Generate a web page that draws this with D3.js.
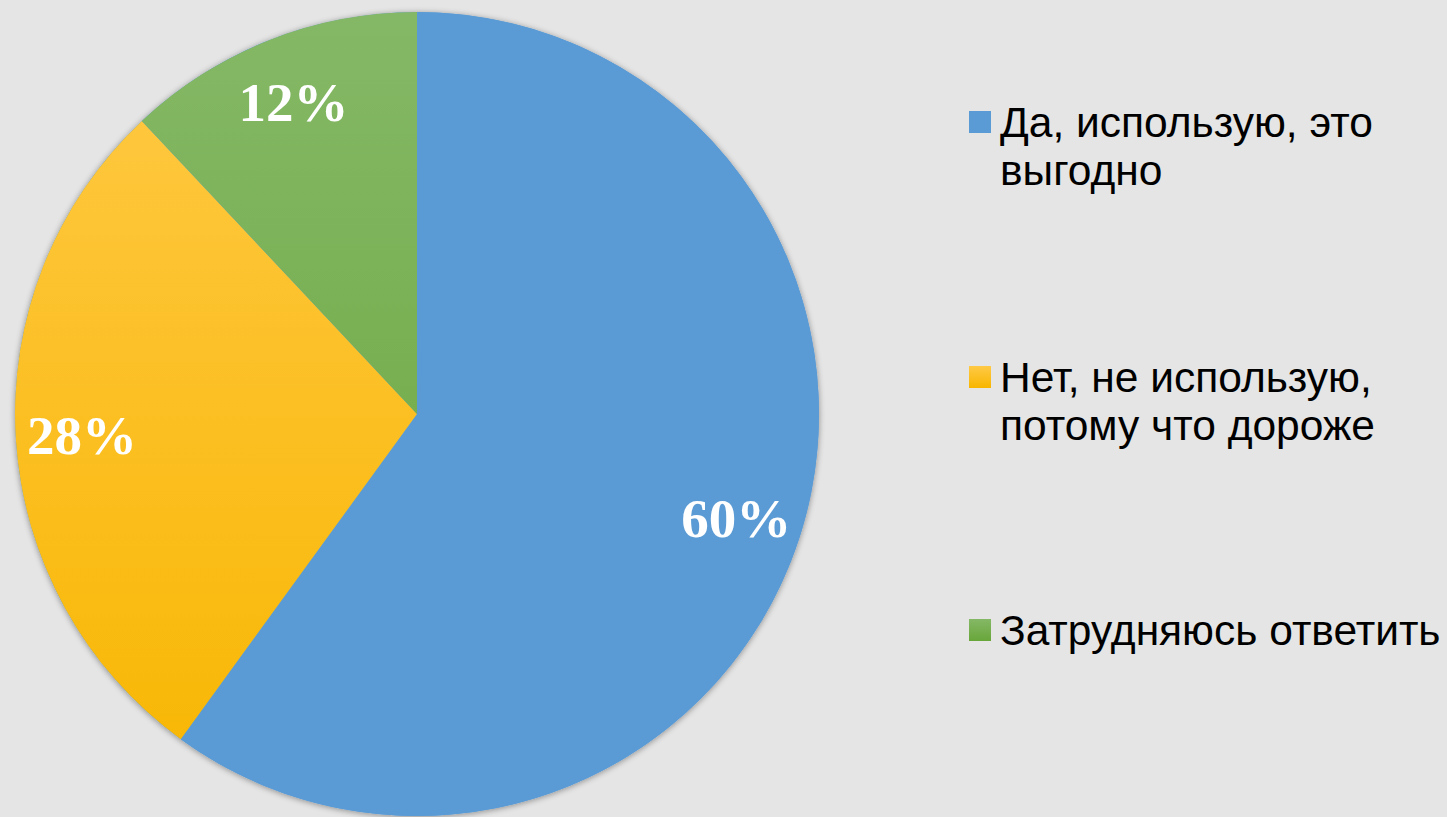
<!DOCTYPE html>
<html><head><meta charset="utf-8">
<script src="https://cdn.jsdelivr.net/npm/d3@7/dist/d3.min.js"></script>
<style>html,body{margin:0;padding:0;background:#e5e5e5;}svg{display:block;}</style>
</head><body>
<svg id="chart" width="1447" height="817"></svg>
<script>
const categories = ["Да, использую, это выгодно", "Нет, не использую, потому что дороже", "Затрудняюсь ответить"];
const legendLines = [["Да, использую, это", "выгодно"], ["Нет, не использую,", "потому что дороже"], ["Затрудняюсь ответить"]];
const values = [60, 28, 12];
const labels = ["60%", "28%", "12%"];
const colorsTop = ["#5b9bd5", "#ffc946", "#85b866"];
const colorsBottom = ["#5b9bd5", "#f8b600", "#68a63a"];

const svg = d3.select("#chart");
const W = 1447, H = 817;
svg.append("rect").attr("width", W).attr("height", H).attr("fill", "#e5e5e5");
const cx = 417, cy = 414, R = 402;

const defs = svg.append("defs");
const f = defs.append("filter").attr("id", "sh").attr("x", "-10%").attr("y", "-10%").attr("width", "120%").attr("height", "120%");
f.append("feGaussianBlur").attr("in", "SourceAlpha").attr("stdDeviation", 3);
f.append("feOffset").attr("dx", 0).attr("dy", 1).attr("result", "b");
f.append("feComponentTransfer").append("feFuncA").attr("type", "linear").attr("slope", 0.4);
const fm = f.append("feMerge");
fm.append("feMergeNode");
fm.append("feMergeNode").attr("in", "SourceGraphic");

categories.forEach((c, i) => {
  const g = defs.append("linearGradient").attr("id", "g" + i)
    .attr("gradientUnits", "userSpaceOnUse")
    .attr("x1", 0).attr("y1", -R).attr("x2", 0).attr("y2", R);
  g.append("stop").attr("offset", "0%").attr("stop-color", colorsTop[i]);
  g.append("stop").attr("offset", "100%").attr("stop-color", colorsBottom[i]);
  const lg = defs.append("linearGradient").attr("id", "lg" + i)
    .attr("x1", 0).attr("y1", 0).attr("x2", 0).attr("y2", 1);
  lg.append("stop").attr("offset", "0%").attr("stop-color", colorsTop[i]);
  lg.append("stop").attr("offset", "100%").attr("stop-color", colorsBottom[i]);
});

const pie = d3.pie().sort(null).value(d => d)(values);
const arc = d3.arc().innerRadius(0).outerRadius(R);
const labelArc = d3.arc().innerRadius(R * 0.835).outerRadius(R * 0.835);

const g = svg.append("g").attr("transform", `translate(${cx},${cy})`);
g.append("circle").attr("r", R).attr("fill", "#5b9bd5").attr("filter", "url(#sh)");
g.selectAll("path.slice").data(pie).enter().append("path")
  .attr("class", "slice")
  .attr("d", arc)
  .attr("fill", (d, i) => i === 0 ? colorsTop[0] : `url(#g${i})`);

g.selectAll("text.lbl").data(pie).enter().append("text")
  .attr("class", "lbl")
  .attr("transform", d => `translate(${labelArc.centroid(d)})`)
  .attr("text-anchor", "middle")
  .attr("dy", "0.35em")
  .attr("font-family", "'Liberation Serif', 'Times New Roman', serif")
  .attr("font-weight", "bold")
  .attr("font-size", 55)
  .attr("fill", "#ffffff")
  .text((d, i) => labels[i]);

const legY = [137, 392, 645];
const lgd = svg.append("g");
legendLines.forEach((lines, i) => {
  lgd.append("rect").attr("x", 969).attr("y", legY[i] - 26).attr("width", 22).attr("height", 22)
    .attr("fill", `url(#lg${i})`);
  const t = lgd.append("text").attr("x", 1000).attr("y", legY[i])
    .attr("font-family", "'Liberation Sans', Arial, sans-serif")
    .attr("font-size", 42.5).attr("fill", "#000");
  lines.forEach((l, j) => {
    t.append("tspan").attr("x", 1000).attr("dy", j === 0 ? 0 : 48).text(l);
  });
});
</script>
</body></html>
